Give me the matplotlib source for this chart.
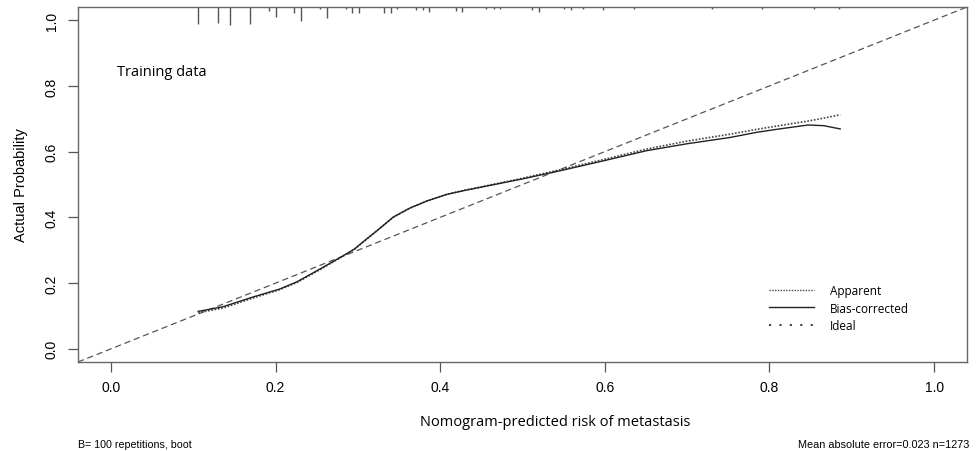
import matplotlib
matplotlib.use("Agg")
import matplotlib.pyplot as plt
from matplotlib.lines import Line2D

# calibration curves
pred_x = [0.106, 0.136, 0.173, 0.205, 0.226, 0.254, 0.282, 0.296, 0.306, 0.323,
          0.343, 0.363, 0.384, 0.408, 0.430, 0.448, 0.500, 0.546, 0.600, 0.651,
          0.700, 0.752, 0.785, 0.812, 0.847, 0.866, 0.886]
apparent = [0.110, 0.124, 0.155, 0.180, 0.202, 0.241, 0.282, 0.303, 0.324, 0.359,
            0.400, 0.428, 0.450, 0.470, 0.483, 0.492, 0.519, 0.545, 0.577, 0.608,
            0.632, 0.653, 0.668, 0.679, 0.693, 0.702, 0.712]
bias_corrected = [0.114, 0.128, 0.158, 0.182, 0.204, 0.243, 0.283, 0.304, 0.325, 0.359,
                  0.401, 0.428, 0.450, 0.470, 0.482, 0.491, 0.517, 0.542, 0.573, 0.603,
                  0.624, 0.643, 0.659, 0.669, 0.681, 0.679, 0.669]

# rug of predicted risks along the top (position, length)
rug_x = [0.106, 0.130, 0.145, 0.169, 0.192, 0.200, 0.223, 0.231, 0.254, 0.262,
         0.286, 0.293, 0.301, 0.332, 0.340, 0.348, 0.371, 0.379, 0.387, 0.419,
         0.426, 0.456, 0.465, 0.473, 0.512, 0.520, 0.551, 0.559, 0.574, 0.598,
         0.635, 0.730, 0.791, 0.854, 0.885]
rug_len = [0.052, 0.049, 0.055, 0.052, 0.012, 0.030, 0.018, 0.043, 0.006, 0.033,
           0.006, 0.018, 0.018, 0.018, 0.018, 0.006, 0.009, 0.009, 0.015, 0.012,
           0.015, 0.006, 0.006, 0.006, 0.009, 0.015, 0.006, 0.009, 0.006, 0.009,
           0.006, 0.006, 0.006, 0.006, 0.006]

xticks = [0.0, 0.2, 0.4, 0.6, 0.8, 1.0]
yticks = [0.0, 0.2, 0.4, 0.6, 0.8, 1.0]
lim = (-0.04, 1.04)

fig = plt.figure(figsize=(9.79, 4.52), dpi=100)
ax = fig.add_axes([78 / 979, 89 / 452, 889 / 979, 355 / 452])

ax.plot(lim, lim, color="#555555", lw=0.9, linestyle=(0, (5, 3)))
ax.plot(pred_x, apparent, color="#444444", lw=1.2, linestyle=(0, (1, 1)))
ax.plot(pred_x, bias_corrected, color="#222222", lw=1.0)
ax.vlines(rug_x, [lim[1] - l for l in rug_len], lim[1], color="#555555", lw=1.0)

ax.set_xlim(lim)
ax.set_ylim(lim)
ax.set_xticks(xticks)
ax.set_yticks(yticks)
ax.set_xticklabels([f"{v:.1f}" for v in xticks], family="Liberation Sans", fontsize=10)
ax.set_yticklabels([f"{v:.1f}" for v in yticks], family="Liberation Sans", fontsize=10,
                   rotation=90, va="center")
ax.tick_params(direction="out", length=7, width=0.9, color="#555555", pad=6)
ax.tick_params(axis="y", pad=7)
for s in ax.spines.values():
    s.set_color("#666666")
    s.set_linewidth(1.0)

ax.set_ylabel("Actual Probability", family="Liberation Sans", fontsize=10.5, labelpad=12)
fig.text(555 / 979, 1 - 423 / 452, "Nomogram-predicted risk of metastasis",
         family="Open Sans", fontsize=10.5, ha="center", va="center")

ax.text(0.044, 0.818, "Training data", transform=ax.transAxes, family="Open Sans",
        fontsize=10.5, va="center")

handles = [
    Line2D([], [], color="#444444", lw=1.0, linestyle=(0, (1, 1))),
    Line2D([], [], color="#222222", lw=1.0),
    Line2D([], [], color="#444444", lw=1.5, linestyle=(0, (1, 4))),
]
ax.legend(handles, ["Apparent", "Bias-corrected", "Ideal"], loc="upper left",
          bbox_to_anchor=(0.771, 0.236), frameon=False, borderpad=0,
          handlelength=3.8, handletextpad=1.3, labelspacing=0.38,
          prop={"family": "Open Sans", "size": 8.5})

fig.text(78 / 979, 7 / 452, "B= 100 repetitions, boot", family="Liberation Sans",
         fontsize=7.7, va="center")
fig.text(969 / 979, 7 / 452, "Mean absolute error=0.023 n=1273", family="Liberation Sans",
         fontsize=7.8, va="center", ha="right")

fig.savefig("out.png", dpi=100)
